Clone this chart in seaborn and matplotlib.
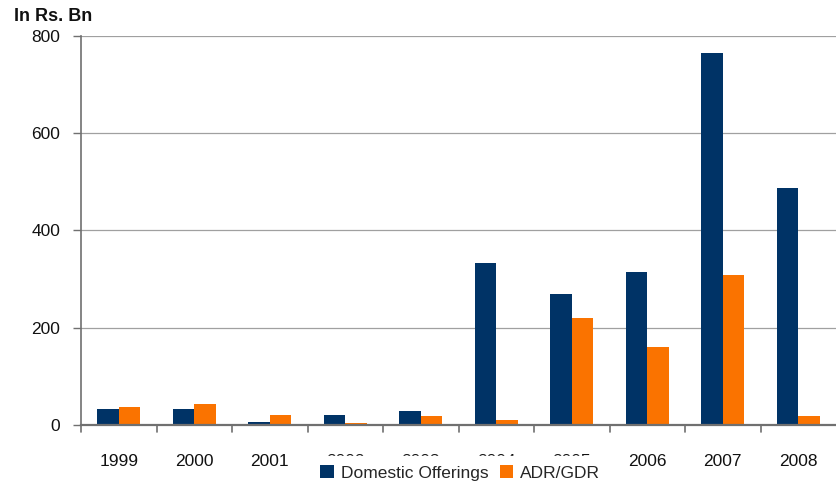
import matplotlib
matplotlib.use("Agg")
import matplotlib.pyplot as plt
import seaborn as sns
import pandas as pd
from matplotlib.patches import Patch

years = ["1999", "2000", "2001", "2002", "2003", "2004", "2005", "2006", "2007", "2008"]
domestic = [33, 33, 6, 21, 29, 333, 270, 315, 765, 487]
adr_gdr = [37, 43, 21, 4, 19, 10, 220, 160, 308, 19]
series_names = ["Domestic Offerings", "ADR/GDR"]
y_ticks = [0, 200, 400, 600, 800]

df = pd.DataFrame({
    "Year": years * 2,
    "Value": domestic + adr_gdr,
    "Series": [series_names[0]] * len(years) + [series_names[1]] * len(years),
})

sns.set_theme(style="white")
plt.rcParams["font.family"] = ["Liberation Sans", "DejaVu Sans"]

fig = plt.figure(figsize=(8.36, 4.86), dpi=100)
ax = fig.add_axes([0.097, 0.1255, 0.903, 0.8005])

palette = {series_names[0]: "#003366", series_names[1]: "#FA7300"}
sns.barplot(data=df, x="Year", y="Value", hue="Series", palette=palette,
            width=0.57, saturation=1, ax=ax, legend=False)

ax.set_ylim(0, 800)
ax.set_xlim(-0.5, len(years) - 0.5)
ax.set_yticks(y_ticks)
ax.yaxis.grid(True, color="#A0A0A0", linewidth=0.9)
ax.set_axisbelow(True)
for p in ax.patches:
    p.set_linewidth(0)

for s in ["top", "right"]:
    ax.spines[s].set_visible(False)
ax.spines["left"].set_color("#707070")
ax.spines["bottom"].set_color("#707070")
ax.spines["left"].set_linewidth(1.2)
ax.spines["bottom"].set_linewidth(1.6)

ax.set_xlabel("")
ax.set_ylabel("")
ax.tick_params(axis="y", length=6, width=1, color="#707070", direction="out",
               labelsize=12.5, labelcolor="#111111", left=True, pad=9)
ax.tick_params(axis="x", length=0, labelsize=12.5, labelcolor="#111111", pad=21)
ax.set_xticks(range(len(years)))
ax.set_xticklabels(years)
# tick marks between category groups
for xb in [i + 0.5 for i in range(-1, len(years) - 1)]:
    ax.plot([xb, xb], [0, -0.018], transform=ax.get_xaxis_transform(),
            color="#707070", lw=1.2, clip_on=False)

handles = [Patch(facecolor=palette[n], edgecolor="none") for n in series_names]
leg = ax.legend(handles, series_names, loc="center", bbox_to_anchor=(0.502, -0.123),
                ncol=2, frameon=True, fontsize=12.5, handlelength=0.8, handleheight=0.8,
                handletextpad=0.4, columnspacing=0.65, borderpad=0.5,
                borderaxespad=0, fancybox=False)
leg.get_frame().set_facecolor("white")
leg.get_frame().set_edgecolor("white")
leg.get_frame().set_alpha(1)
leg.set_zorder(10)

fig.text(0.017, 0.967, "In Rs. Bn", fontsize=13, fontweight="bold", color="#111111",
         va="center", ha="left")

fig.savefig("out.png", dpi=100, facecolor="white")
